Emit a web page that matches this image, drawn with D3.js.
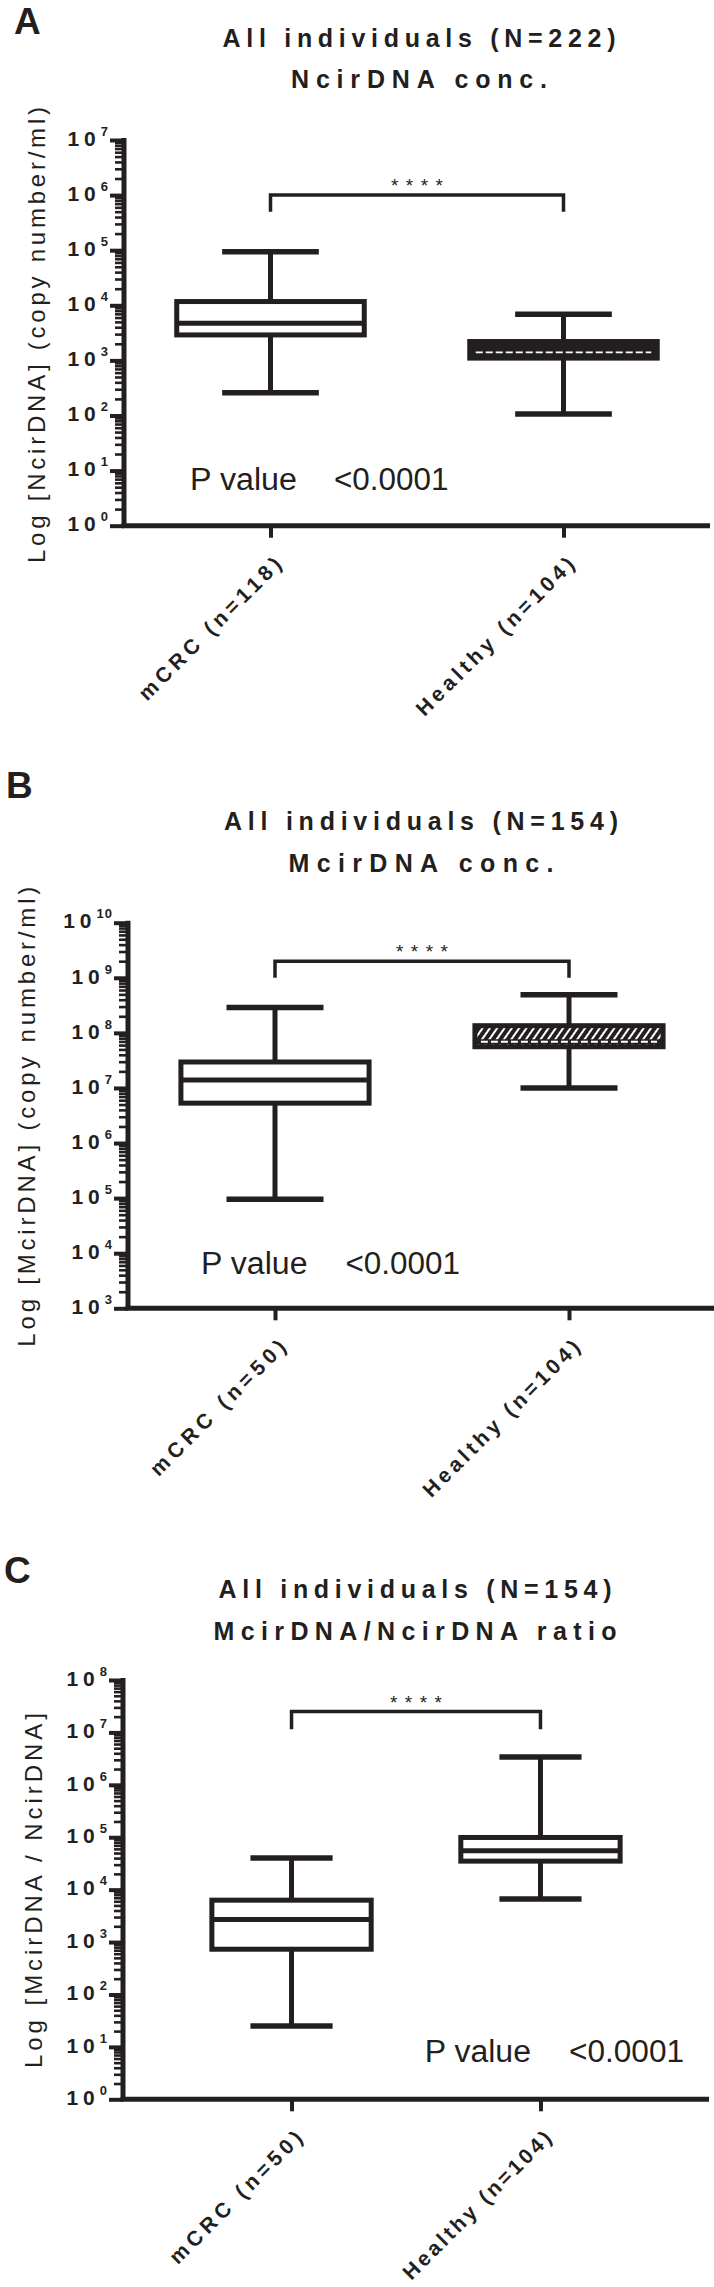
<!DOCTYPE html>
<html><head><meta charset="utf-8">
<script src="https://cdn.jsdelivr.net/npm/d3@7"></script>
<style>body{margin:0;background:#fff} svg{display:block}</style>
</head><body>
<svg id="chart" width="714" height="2287"></svg>
<script>
// ---------------- DATA ----------------
const categories = ["mCRC", "Healthy"];
const panelLetters = ["A", "B", "C"];
const titlesLine1 = ["All individuals (N=222)", "All individuals (N=154)", "All individuals (N=154)"];
const titlesLine2 = ["NcirDNA conc.", "McirDNA conc.", "McirDNA/NcirDNA ratio"];
const yAxisTitles = ["Log [NcirDNA] (copy number/ml)", "Log [McirDNA] (copy number/ml)", "Log [McirDNA / NcirDNA]"];
const categoryLabelsA = ["mCRC (n=118)", "Healthy (n=104)"];
const categoryLabelsB = ["mCRC (n=50)", "Healthy (n=104)"];
const categoryLabelsC = ["mCRC (n=50)", "Healthy (n=104)"];
const yDomainA = [1, 1e7];
const yDomainB = [1e3, 1e10];
const yDomainC = [1, 1e8];
// box statistics: [min, Q1, median, Q3, max]
const boxA_mCRC = [260, 2900, 4700, 11700, 94000];
const boxA_Healthy = [107, 1100, 1400, 2200, 6900];
const boxB_mCRC = [9.5e4, 5.3e6, 1.4e7, 2.96e7, 2.9e8];
const boxB_Healthy = [1.0e7, 5.6e7, 6.9e7, 1.35e8, 4.9e8];
const boxC_mCRC = [25, 730, 2700, 6300, 40000];
const boxC_Healthy = [6600, 35000, 55000, 99000, 3.4e6];
// significance bracket: [end of drop, bar level]
const bracketA = [5e5, 1e6];
const bracketB = [1e9, 2e9];
const bracketC = [1.15e7, 2.5e7];
const significance = ["****", "****", "****"];
const pValueLabel = "P value";
const pValueText = "<0.0001";

// ---------------- LAYOUT ----------------
const layout = [
  {letter: [14, 34], title: {cx: 419, y1: 46.7, y2: 88.3, w1: 393, w2: 256},
   axisX: 124, top: 140, bottom: 525.7, xRight: 710, pad: 0.5,
   yTitle: {x: 45, cy: 335, len: 456}, catLen: [192, 214],
   p: {x1: 190, w1: 107, x2: 334, w2: 114.5, y: 490}, healthyFill: "solid"},
  {letter: [6, 798], title: {cx: 421, y1: 830, y2: 871.7, w1: 394, w2: 265},
   axisX: 128, top: 922.7, bottom: 1308.3, xRight: 716, pad: 0.5,
   yTitle: {x: 35, cy: 1116.7, len: 460}, catLen: [182, 212],
   p: {x1: 201, w1: 106.5, x2: 345.5, w2: 114.5, y: 1274}, healthyFill: "hatch"},
  {letter: [4, 1583], title: {cx: 415, y1: 1598, y2: 1640, w1: 393, w2: 403},
   axisX: 123, top: 1680, bottom: 2099.3, xRight: 709, pad: 0.677,
   yTitle: {x: 42, cy: 1890.5, len: 355}, catLen: [178, 200],
   p: {x1: 424.7, w1: 106.3, x2: 569, w2: 115, y: 2062.3}, healthyFill: "white"}
];

const panels = [
  {domain: yDomainA, boxes: [boxA_mCRC, boxA_Healthy], labels: categoryLabelsA, bracket: bracketA},
  {domain: yDomainB, boxes: [boxB_mCRC, boxB_Healthy], labels: categoryLabelsB, bracket: bracketB},
  {domain: yDomainC, boxes: [boxC_mCRC, boxC_Healthy], labels: categoryLabelsC, bracket: bracketC}
];

const INK = "#231f20";
const FONT = "'Liberation Sans', Arial, Helvetica, sans-serif";
const svg = d3.select("#chart");
svg.append("rect").attr("width", 714).attr("height", 2287).attr("fill", "#fff");

const defs = svg.append("defs");
const pat = defs.append("pattern").attr("id", "hatch").attr("patternUnits", "userSpaceOnUse")
  .attr("width", 6).attr("height", 6).attr("patternTransform", "rotate(35)");
pat.append("rect").attr("width", 6).attr("height", 6).attr("fill", INK);
pat.append("rect").attr("width", 2).attr("height", 6).attr("fill", "#fff");

panels.forEach((P, i) => {
  const L = layout[i];
  const g = svg.append("g").attr("font-family", FONT).attr("fill", INK);

  // panel letter
  g.append("text").attr("x", L.letter[0]).attr("y", L.letter[1])
    .attr("font-size", 37).attr("font-weight", "bold").text(panelLetters[i]);

  // titles
  g.append("text").attr("x", L.title.cx).attr("y", L.title.y1).attr("text-anchor", "middle")
    .attr("font-size", 25).attr("font-weight", "bold")
    .attr("textLength", L.title.w1).attr("lengthAdjust", "spacing").text(titlesLine1[i]);
  g.append("text").attr("x", L.title.cx).attr("y", L.title.y2).attr("text-anchor", "middle")
    .attr("font-size", 25).attr("font-weight", "bold")
    .attr("textLength", L.title.w2).attr("lengthAdjust", "spacing").text(titlesLine2[i]);

  // scales
  const y = d3.scaleLog().domain(P.domain).range([L.bottom, L.top]);
  const x = d3.scalePoint().domain(categories).range([L.axisX, L.xRight]).padding(L.pad);
  const step = x.step();
  const boxW = step * 0.64, capW = step * 0.33;

  const e0 = Math.round(Math.log10(P.domain[0])), e1 = Math.round(Math.log10(P.domain[1]));
  const majors = d3.range(e0, e1 + 1).map(e => Math.pow(10, e));
  const minors = [];
  for (let e = e0; e < e1; e++) for (let k = 2; k <= 9; k++) minors.push(k * Math.pow(10, e));

  // y axis ticks
  const yMinor = g.append("g").attr("transform", `translate(${L.axisX},0)`)
    .call(d3.axisLeft(y).tickValues(minors).tickSize(9).tickFormat(""));
  yMinor.select(".domain").remove();
  yMinor.selectAll("line").attr("stroke", INK).attr("stroke-width", 2.6);
  const yMajor = g.append("g").attr("transform", `translate(${L.axisX},0)`)
    .call(d3.axisLeft(y).tickValues(majors).tickSize(14).tickFormat(""));
  yMajor.select(".domain").remove();
  yMajor.selectAll("line").attr("stroke", INK).attr("stroke-width", 4);

  // tick labels 10^n
  majors.forEach(v => {
    const t = g.append("text").attr("x", L.axisX - 15).attr("y", y(v)).attr("dy", "0.36em")
      .attr("text-anchor", "end").attr("font-weight", "bold");
    t.append("tspan").attr("font-size", 21).style("letter-spacing", "5px").text("10");
    t.append("tspan").attr("font-size", 13).attr("dy", -10).style("letter-spacing", "1px")
      .text(String(Math.round(Math.log10(v))));
  });

  // x axis ticks
  const xAx = g.append("g").attr("transform", `translate(0,${L.bottom})`)
    .call(d3.axisBottom(x).tickSize(12).tickFormat(""));
  xAx.select(".domain").remove();
  xAx.selectAll("line").attr("stroke", INK).attr("stroke-width", 4);

  // axis lines
  g.append("line").attr("x1", L.axisX).attr("x2", L.axisX).attr("y1", L.top - 2).attr("y2", L.bottom)
    .attr("stroke", INK).attr("stroke-width", 5);
  g.append("line").attr("x1", L.axisX - 2.5).attr("x2", L.xRight).attr("y1", L.bottom).attr("y2", L.bottom)
    .attr("stroke", INK).attr("stroke-width", 5);

  // y axis title
  g.append("text").attr("transform", `translate(${L.yTitle.x},${L.yTitle.cy}) rotate(-90)`)
    .attr("text-anchor", "middle").attr("font-size", 24)
    .attr("textLength", L.yTitle.len).attr("lengthAdjust", "spacing").text(yAxisTitles[i]);

  // category labels
  categories.forEach((c, j) => {
    const cx = x(c) + 7, cy = L.bottom + 35;
    g.append("text").attr("transform", `translate(${cx},${cy}) rotate(-45)`)
      .attr("text-anchor", "end").attr("dy", "0.35em").attr("font-size", 21).attr("font-weight", "bold")
      .attr("textLength", L.catLen[j]).attr("lengthAdjust", "spacing").text(P.labels[j]);
  });

  // boxes
  categories.forEach((c, j) => {
    const [mn, q1, md, q3, mx] = P.boxes[j];
    const cx = x(c);
    const healthy = j === 1;
    const fill = !healthy || L.healthyFill === "white" ? "#fff" : (L.healthyFill === "hatch" ? "url(#hatch)" : INK);
    const bg = g.append("g").attr("stroke", INK).attr("stroke-width", 5);
    bg.append("line").attr("x1", cx).attr("x2", cx).attr("y1", y(mx)).attr("y2", y(q3));
    bg.append("line").attr("x1", cx).attr("x2", cx).attr("y1", y(q1)).attr("y2", y(mn));
    bg.append("line").attr("x1", cx - capW / 2).attr("x2", cx + capW / 2).attr("y1", y(mx)).attr("y2", y(mx)).attr("stroke-width", 5.5);
    bg.append("line").attr("x1", cx - capW / 2).attr("x2", cx + capW / 2).attr("y1", y(mn)).attr("y2", y(mn)).attr("stroke-width", 5.5);
    bg.append("rect").attr("x", cx - boxW / 2).attr("y", y(q3)).attr("width", boxW).attr("height", y(q1) - y(q3))
      .attr("fill", fill);
    bg.append("line").attr("x1", cx - boxW / 2).attr("x2", cx + boxW / 2).attr("y1", y(md)).attr("y2", y(md));
    if (healthy && L.healthyFill !== "white") {
      g.append("line").attr("x1", cx - boxW / 2 + 6).attr("x2", cx + boxW / 2 - 6).attr("y1", y(md)).attr("y2", y(md))
        .attr("stroke", "#fff").attr("stroke-width", 1.8).attr("stroke-dasharray", "7,3");
    }
  });

  // significance bracket
  const [bLow, bHigh] = P.bracket;
  const x1 = x(categories[0]), x2 = x(categories[1]);
  g.append("path").attr("d", `M${x1},${y(bLow)}V${y(bHigh)}H${x2}V${y(bLow)}`)
    .attr("fill", "none").attr("stroke", INK).attr("stroke-width", 3.5);
  g.append("text").attr("x", (x1 + x2) / 2).attr("y", y(bHigh) - 3).attr("text-anchor", "middle")
    .attr("font-size", 19).attr("textLength", 52).attr("lengthAdjust", "spacing").text(significance[i]);

  // P value annotation
  g.append("text").attr("x", L.p.x1).attr("y", L.p.y).attr("font-size", 31)
    .attr("textLength", L.p.w1).attr("lengthAdjust", "spacingAndGlyphs").text(pValueLabel);
  g.append("text").attr("x", L.p.x2).attr("y", L.p.y).attr("font-size", 31)
    .attr("textLength", L.p.w2).attr("lengthAdjust", "spacingAndGlyphs").text(pValueText);
});
</script>
</body></html>
